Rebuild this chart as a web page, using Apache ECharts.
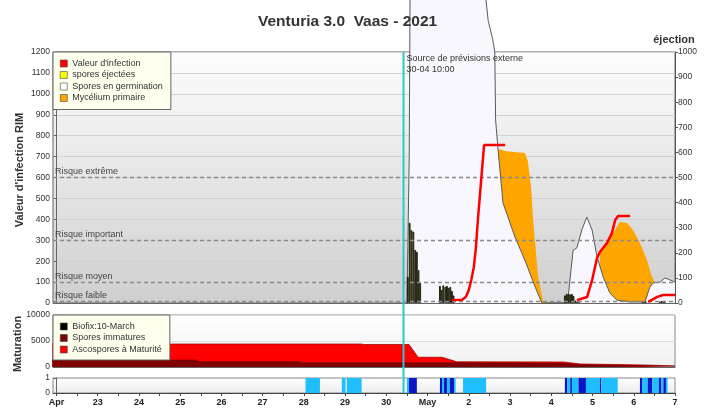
<!DOCTYPE html>
<html><head><meta charset="utf-8">
<script src="https://cdn.jsdelivr.net/npm/echarts@6/dist/echarts.min.js"></script>
<style>html,body{margin:0;padding:0;background:#fff}#c{width:716px;height:408px}</style>
</head><body><div id="c"></div>
<script>
// x values are days since 22 April 2021 00:00
const dayTicks = [0,1,2,3,4,5,6,7,8,9,10,11,12,13,14,15];
const dayLabels = ['Apr','23','24','25','26','27','28','29','30','May','2','3','4','5','6','7'];
const halfDayTicks = [0.5,1.5,2.5,3.5,4.5,5.5,6.5,7.5,8.5,9.5,10.5,11.5,12.5,13.5,14.5];
const forecastDay = 8 + 10/24; // 30-04 10:00

const riskNames = ['Risque extrême','Risque important','Risque moyen','Risque faible'];
const riskValues = [600,300,100,10];

const infection1 = [[9.59,14],[9.84,16],[9.93,30],[10.0,62],[10.06,110],[10.12,170],[10.17,260],[10.22,397],[10.32,636],[10.37,755],[10.88,755]];
const infection2 = [[12.62,14],[12.87,29],[12.99,110],[13.11,215],[13.18,244],[13.35,287],[13.47,334],[13.55,397],[13.62,416],[13.91,416]];
const infection3 = [[14.35,5],[14.57,29],[14.71,38],[15.0,38]];

const sporesEjected = [[8.52,104],[8.565,319],[8.61,290],[8.655,284],[8.70,211],[8.74,204],[8.78,131],[8.82,80],
  [9.30,68],[9.34,52],[9.38,70],[9.43,64],[9.47,68],[9.51,60],[9.55,64],[9.59,48],[9.63,30],
  [12.33,30],[12.375,36],[12.42,36],[12.46,34],[12.50,36],[12.54,28],[12.58,10],[12.625,6],[12.67,5],
  [14.21,6],[14.25,8],[14.29,6],[14.63,5],[14.67,8],[14.71,6],[14.75,8]];

const germination = [[8.50,0],[8.53,0],[8.555,700],[8.575,1480],[10.40,1480],[10.47,1350],[10.58,1260],[10.63,1200],[10.65,875],[10.71,731],[10.83,478],[11.12,315],[11.36,205],[11.61,76],[11.77,0],[12.38,0],[12.41,29],[12.46,124],[12.53,253],[12.62,263],[12.74,349],[12.86,411],[12.99,349],[13.11,220],[13.26,124],[13.42,48],[13.59,14],[13.91,5],[14.27,5],[14.39,76],[14.47,96],[14.64,100],[14.76,120],[14.88,110],[15.0,100]];

const mycelium1 = [[10.71,736],[10.90,726],[11.10,722],[11.36,717],[11.43,680],[11.51,555],[11.56,397],[11.63,239],[11.68,124],[11.80,10],[11.94,0]];
const mycelium2 = [[13.18,239],[13.37,292],[13.59,363],[13.66,387],[13.84,382],[13.98,349],[14.15,287],[14.32,206],[14.44,124],[14.52,96]];

const sporesImmatures = [[-0.1,1350],[3.40,1350],[3.45,1020],[5.90,1020],[5.95,830],[9.70,830],[12.30,700],[12.70,450],[13.50,350],[15,180]];
const ascosporesMatures = [[-0.1,4420],[7.40,4420],[7.45,4330],[8.55,4330],[8.77,1870],[9.35,1870],[9.71,1000],[12.30,960],[12.70,580],[14.20,390],[15,200]];

// wetness strip: [start, end, kind] kind 0 = light, 1 = dark
const wetness = [[6.04,6.39,0],[6.92,7.01,0],[7.04,7.40,0],[8.50,8.55,0],[8.55,8.74,1],
  [9.30,9.35,1],[9.35,9.40,0],[9.40,9.47,1],[9.47,9.54,0],[9.54,9.64,1],[9.64,9.68,0],
  [9.86,10.42,0],
  [12.33,12.39,1],[12.39,12.46,0],[12.46,12.50,1],[12.50,12.66,0],[12.66,12.84,1],[12.84,13.18,0],[13.18,13.21,1],[13.21,13.61,0],
  [14.15,14.21,1],[14.21,14.34,0],[14.34,14.45,1],[14.45,14.61,0],[14.61,14.66,1],[14.66,14.72,0],[14.72,14.78,1],[14.78,14.82,0]];

const FONT = 'Liberation Sans, Arial, sans-serif';
const X_MIN = -2/24, X_MAX = 15;
const chart = echarts.init(document.getElementById('c'), null, {renderer:'canvas'});

function grad(a,b){return {type:'linear',x:0,y:0,x2:0,y2:1,colorStops:[{offset:0,color:a},{offset:1,color:b}]};}
function xAx(grid, extra){
  return Object.assign({type:'value', gridIndex:grid, min:X_MIN, max:X_MAX, position:'bottom',
    axisLine:{show:true, lineStyle:{color:'#666'}}, axisTick:{show:false}, axisLabel:{show:false}, splitLine:{show:false}}, extra||{});
}
const ylab = {fontSize:8.5, color:'#333', margin:3, fontFamily:FONT, formatter:function(v){return String(v);}};

const option = {
  animation:false,
  textStyle:{fontFamily:FONT},
  title:{text:'Venturia 3.0  Vaas - 2021', left:258, top:14, padding:0,
    textStyle:{fontSize:15.5, fontWeight:'bold', color:'#333', fontFamily:FONT}},
  grid:[
    {left:53, top:52, width:622, height:251, show:true, backgroundColor:grad('#fdfdfd','#cfcfcf'), borderColor:'#666', borderWidth:1},
    {left:53, top:315, width:622, height:52, show:true, backgroundColor:grad('#ffffff','#f0f0f0'), borderColor:'#888', borderWidth:1},
    {left:53, top:378, width:622, height:15, show:true, backgroundColor:grad('#ffffff','#ececec'), borderColor:'#888', borderWidth:1}
  ],
  xAxis:[
    xAx(0), xAx(1),
    xAx(2, {axisLine:{show:true, lineStyle:{color:'#444'}},
      axisTick:{show:true, length:3, customValues:dayTicks.concat(halfDayTicks), lineStyle:{color:'#444'}},
      axisLabel:{show:true, customValues:dayTicks, formatter:function(v){return dayLabels[Math.round(v)];},
        fontSize:9, fontWeight:'bold', color:'#222', margin:5, fontFamily:FONT}})
  ],
  yAxis:[
    {type:'value', gridIndex:0, min:0, max:1200, interval:100, position:'left',
      axisLine:{show:true, lineStyle:{color:'#666'}}, axisTick:{show:true, length:3, lineStyle:{color:'#666'}},
      axisLabel:ylab, splitLine:{show:true, lineStyle:{color:'#d2d2d2', width:1}}},
    {type:'value', gridIndex:0, min:0, max:1000, interval:100, position:'right',
      axisLine:{show:true, lineStyle:{color:'#555'}}, axisTick:{show:true, length:3, lineStyle:{color:'#555'}},
      axisLabel:ylab, splitLine:{show:false}},
    {type:'value', gridIndex:1, min:0, max:10000, interval:5000, position:'left',
      axisLine:{show:true, lineStyle:{color:'#666'}}, axisTick:{show:true, length:3, lineStyle:{color:'#666'}},
      axisLabel:ylab, splitLine:{show:true, lineStyle:{color:'#dddddd'}}},
    {type:'value', gridIndex:2, min:0, max:1, interval:1, position:'left',
      axisLine:{show:true, lineStyle:{color:'#666'}}, axisTick:{show:true, length:3, lineStyle:{color:'#666'}},
      axisLabel:ylab, splitLine:{show:false}}
  ],
  legend:[
    {left:53, top:52, orient:'vertical', padding:[6,8,6,7], itemGap:0.5, itemWidth:7, itemHeight:7, icon:'rect',
      backgroundColor:'#ffffee', borderColor:'#666', borderWidth:1, borderRadius:0, selectedMode:false,
      textStyle:{fontSize:9, color:'#333', lineHeight:11, fontFamily:FONT},
      data:[
        {name:"Valeur d'infection", itemStyle:{color:'#ff0000', borderColor:'#444', borderWidth:0.6}},
        {name:'spores éjectées', itemStyle:{color:'#ffff00', borderColor:'#444', borderWidth:0.6}},
        {name:'Spores en germination', itemStyle:{color:'#ffffff', borderColor:'#444', borderWidth:0.6}},
        {name:'Mycélium primaire', itemStyle:{color:'#ffa500', borderColor:'#444', borderWidth:0.6}}
      ]},
    {left:53, top:315, orient:'vertical', padding:[6,8,5,7], itemGap:0.5, itemWidth:7, itemHeight:7, icon:'rect',
      backgroundColor:'#ffffee', borderColor:'#666', borderWidth:1, selectedMode:false,
      textStyle:{fontSize:9, color:'#333', lineHeight:11, fontFamily:FONT},
      data:[
        {name:'Biofix:10-March', itemStyle:{color:'#000000', borderColor:'#444', borderWidth:0.6}},
        {name:'Spores immatures', itemStyle:{color:'#800000', borderColor:'#444', borderWidth:0.6}},
        {name:'Ascospores à Maturité', itemStyle:{color:'#ff0000', borderColor:'#444', borderWidth:0.6}}
      ]}
  ],
  series:[
    {name:'Mycélium primaire', type:'line', xAxisIndex:0, yAxisIndex:0, data:mycelium1, symbol:'none', z:2,
      color:'#ffa500', lineStyle:{width:0}, areaStyle:{color:'#ffa500', opacity:1}},
    {name:'Mycélium primaire', type:'line', xAxisIndex:0, yAxisIndex:0, data:mycelium2, symbol:'none', z:2,
      color:'#ffa500', lineStyle:{width:0}, areaStyle:{color:'#ffa500', opacity:1}},
    {name:'Spores en germination', type:'line', xAxisIndex:0, yAxisIndex:0, data:germination, symbol:'none', z:3, clip:false,
      color:'#ffffff', lineStyle:{width:1, color:'#5a5a5a'}, areaStyle:{color:'#f7f7fd', opacity:1}},
    {name:'spores éjectées', type:'bar', xAxisIndex:0, yAxisIndex:1, data:sporesEjected, barWidth:1.7, z:4,
      color:'#ffff00', itemStyle:{color:'#8a8a00', borderColor:'#000', borderWidth:0.8}},
    {name:"Valeur d'infection", type:'line', xAxisIndex:0, yAxisIndex:0, data:infection1, symbol:'none', z:6,
      color:'#ff0000', lineStyle:{width:2.5, color:'#ff0000'},
      markLine:{silent:true, symbol:'none', z:6,
        lineStyle:{color:'#8a8a8a', type:[4,3], width:1.4},
        label:{show:true, position:'insideStartTop', formatter:'{b}', color:'#444', fontSize:9, distance:[2,1], fontFamily:FONT},
        data:riskNames.map(function(n,i){return {name:n, yAxis:riskValues[i]};})}},
    {name:"Valeur d'infection", type:'line', xAxisIndex:0, yAxisIndex:0, data:infection2, symbol:'none', z:6,
      color:'#ff0000', lineStyle:{width:2.5, color:'#ff0000'}},
    {name:"Valeur d'infection", type:'line', xAxisIndex:0, yAxisIndex:0, data:infection3, symbol:'none', z:6,
      color:'#ff0000', lineStyle:{width:2.5, color:'#ff0000'}},
    {name:'Ascospores à Maturité', type:'line', xAxisIndex:1, yAxisIndex:2, data:ascosporesMatures, symbol:'none', z:2,
      color:'#ff0000', lineStyle:{width:0.8, color:'#a00000'}, areaStyle:{color:'#ff0000', opacity:1}},
    {name:'Spores immatures', type:'line', xAxisIndex:1, yAxisIndex:2, data:sporesImmatures, symbol:'none', z:3,
      color:'#800000', lineStyle:{width:0.5, color:'#600000'}, areaStyle:{color:'#800000', opacity:1}},
    {name:'Biofix:10-March', type:'line', xAxisIndex:1, yAxisIndex:2, data:[], color:'#000000'},
    {name:'wetness', type:'custom', xAxisIndex:2, yAxisIndex:3, data:wetness, z:3,
      encode:{x:[0,1]},
      renderItem:function(params, api){
        var s = api.coord([api.value(0), 1]);
        var e = api.coord([api.value(1), 0]);
        return {type:'rect', shape:{x:s[0], y:s[1], width:e[0]-s[0], height:e[1]-s[1]},
          style:{fill: api.value(2) === 1 ? '#0a14c8' : '#1ebeff'}};
      }}
  ]
};
chart.setOption(option);

var px = chart.convertToPixel({xAxisIndex:0}, forecastDay);
var g0 = chart.getModel().getComponent('grid',0).coordinateSystem.getRect();
var g2 = chart.getModel().getComponent('grid',2).coordinateSystem.getRect();
chart.setOption({graphic:[
  {type:'line', z:100, shape:{x1:px, y1:g0.y, x2:px, y2:g2.y+g2.height}, style:{stroke:'#2cc8cc', lineWidth:2}},
  {type:'text', z:100, x:px+3, y:g0.y+1, style:{text:'Source de prévisions externe\n30-04 10:00', fontSize:9, lineHeight:11, fill:'#333', fontFamily:FONT}},
  {type:'text', z:100, x:20, y:170, rotation:Math.PI/2, style:{text:"Valeur d'infection RIM", fontSize:11, fontWeight:'bold', fill:'#333', textAlign:'center', textVerticalAlign:'middle', fontFamily:FONT}},
  {type:'text', z:100, x:18, y:344, rotation:Math.PI/2, style:{text:'Maturation', fontSize:11, fontWeight:'bold', fill:'#333', textAlign:'center', textVerticalAlign:'middle', fontFamily:FONT}},
  {type:'text', z:100, x:674, y:40, style:{text:'éjection', fontSize:11, fontWeight:'bold', fill:'#333', textAlign:'center', textVerticalAlign:'middle', fontFamily:FONT}}
]});
</script>
</body></html>
